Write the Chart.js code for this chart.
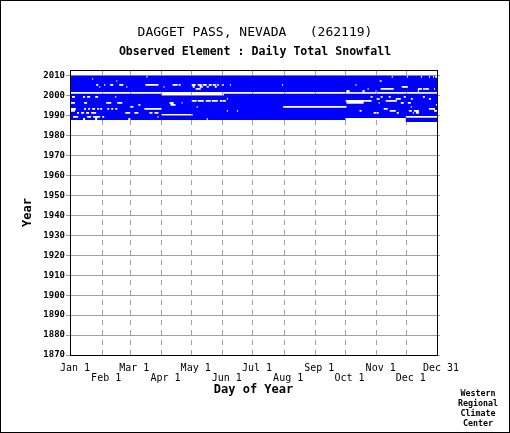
<!DOCTYPE html>
<html><head><meta charset="utf-8">
<script src="https://cdn.jsdelivr.net/npm/chart.js@4.4.1/dist/chart.umd.min.js"></script>
<style>html,body{margin:0;padding:0;background:#fff}canvas{display:block}</style>
</head><body>
<canvas id="c" width="510" height="433"></canvas>
<script>
const stationTitle = 'DAGGET PASS, NEVADA   (262119)';
const elementTitle = 'Observed Element : Daily Total Snowfall';
const xAxisTitle = 'Day of Year';
const yAxisTitle = 'Year';
const creditLines = ['Western', 'Regional', 'Climate', 'Center'];

const yearTicks = [1870, 1880, 1890, 1900, 1910, 1920, 1930, 1940, 1950, 1960, 1970, 1980, 1990, 2000, 2010];
const dayTicks = [1, 32, 60, 91, 121, 152, 182, 213, 244, 274, 305, 335, 365];
const dayTickLabels = ['Jan 1', 'Feb 1', 'Mar 1', 'Apr 1', 'May 1', 'Jun 1', 'Jul 1', 'Aug 1', 'Sep 1', 'Oct 1', 'Nov 1', 'Dec 1', 'Dec 31'];

const firstYear = 1987;
const lastYear = 2009;

// [year, first missing day-of-year, last missing day-of-year]
const missingSpans = [
  [2009,77,77],[2009,321,321],[2009,336,336],[2009,350,350],[2009,358,358],[2009,362,362],[2009,364,365],
  [2008,23,23],
  [2007,47,47],[2007,309,310],
  [2005,27,28],[2005,35,35],[2005,41,43],[2005,50,53],[2005,76,88],[2005,103,107],[2005,109,110],[2005,122,125],[2005,128,131],[2005,133,136],[2005,139,141],[2005,143,145],[2005,147,148],[2005,152,153],[2005,160,160],[2005,212,212],[2005,285,285],
  [2004,30,30],[2004,57,57],[2004,94,94],[2004,123,124],[2004,130,132],[2004,137,138],[2004,145,146],[2004,331,336],
  [2003,126,130],[2003,297,297],[2003,310,322],[2003,347,350],[2003,352,357],[2003,363,363],
  [2002,276,278],[2002,292,293],[2002,305,305],[2002,347,347],
  [2001,1,365],
  [2000,92,153],
  [1999,3,5],[1999,14,15],[1999,18,20],[1999,26,28],[1999,46,46],[1999,300,301],[1999,310,311],[1999,318,319],[1999,333,334],[1999,352,353],
  [1998,157,157],[1998,306,308],[1998,325,327],[1998,328,329],[1998,340,341],[1998,358,359],
  [1997,122,126],[1997,128,133],[1997,136,140],[1997,142,147],[1997,150,155],[1997,275,300],[1997,315,325],
  [1996,1,5],[1996,15,17],[1996,37,41],[1996,48,52],[1996,100,103],[1996,112,112],[1996,276,292],[1996,308,308],[1996,330,332],[1996,337,339],
  [1995,69,70],[1995,101,105],[1995,365,365],
  [1994,61,63],[1994,127,127],[1994,213,275],[1994,340,340],
  [1993,1,6],[1993,15,16],[1993,19,20],[1993,23,25],[1993,28,29],[1993,31,32],[1993,38,39],[1993,42,43],[1993,46,47],[1993,75,91],[1993,313,316],[1993,358,363],
  [1992,1,5],[1992,157,157],[1992,167,167],[1992,289,290],[1992,319,324],[1992,338,340],[1992,343,347],[1992,363,365],
  [1991,8,9],[1991,12,14],[1991,17,19],[1991,22,26],[1991,56,60],[1991,65,68],[1991,80,82],[1991,85,88],[1991,303,307],[1991,326,327],[1991,342,342],[1991,345,347],
  [1990,92,122],
  [1989,4,8],[1989,18,21],[1989,24,30],[1989,33,34],[1989,88,88],[1989,335,365],
  [1988,14,15],[1988,26,27],[1988,59,60],[1988,137,137],[1988,275,334],
  [1987,1,334]
];

// Build the observed (present) day spans for each year from the missing list
const observed = [];
for (let yr = firstYear; yr <= lastYear; yr++) {
  const gaps = missingSpans.filter(m => m[0] === yr).map(m => [m[1] - 1, m[2]]).sort((a, b) => a[0] - b[0]);
  let cur = 0;
  for (const [s, e] of gaps) {
    if (s > cur) observed.push({ x: [cur, s], y: yr + 0.5 });
    cur = Math.max(cur, e);
  }
  if (cur < 365) observed.push({ x: [cur, 365], y: yr + 0.5 });
}

const MONO = '"DejaVu Sans Mono", "Liberation Mono", monospace';
const GRID = '#a0a0a0';

const framePlugin = {
  id: 'frame',
  beforeDraw(chart) {
    const c = chart.ctx;
    c.save(); c.fillStyle = '#fff'; c.fillRect(0, 0, chart.width, chart.height); c.restore();
  },
  afterDraw(chart) {
    const { ctx, chartArea: a, scales } = chart;
    ctx.save();
    ctx.strokeStyle = GRID; ctx.lineWidth = 1;
    scales.y.ticks.forEach(t => {
      const py = Math.round(scales.y.getPixelForValue(t.value) - 0.5) + 0.5;
      ctx.beginPath(); ctx.moveTo(a.right, py); ctx.lineTo(a.right + 3, py); ctx.stroke();
    });
    ctx.strokeStyle = '#000';
    ctx.strokeRect(a.left + 0.5, a.top + 0.5, a.right - a.left, a.bottom - a.top);
    ctx.strokeRect(0.5, 0.5, chart.width - 1, chart.height - 1);
    ctx.fillStyle = '#000';
    ctx.font = 'bold 8.3px ' + MONO;
    ctx.textAlign = 'center'; ctx.textBaseline = 'middle';
    creditLines.forEach((s, i) => ctx.fillText(s, 478, 394 + i * 9.8));
    ctx.restore();
  }
};

new Chart(document.getElementById('c'), {
  type: 'bar',
  data: {
    datasets: [{
      label: 'Observed',
      data: observed,
      backgroundColor: '#0000ff',
      borderWidth: 0,
      barPercentage: 1.15,
      categoryPercentage: 1,
      inflateAmount: 0,
      yAxisID: 'y'
    }]
  },
  options: {
    indexAxis: 'y',
    responsive: false,
    devicePixelRatio: 1,
    animation: false,
    events: [],
    layout: { padding: 0 },
    plugins: {
      legend: { display: false },
      tooltip: { enabled: false },
      title: {
        display: true, text: stationTitle, color: '#000',
        font: { family: MONO, size: 13, weight: 'normal', lineHeight: 1.2 },
        padding: { top: 25, bottom: 2 }
      },
      subtitle: {
        display: true, text: elementTitle, color: '#000',
        font: { family: MONO, size: 11.6, weight: 'bold', lineHeight: 1.2 },
        padding: { top: 2, bottom: 11.5 }
      }
    },
    scales: {
      x: {
        type: 'linear', position: 'bottom', min: 0, max: 365, offset: false,
        afterBuildTicks: s => { s.ticks = dayTicks.map(v => ({ value: v })); },
        afterFit: s => { s.height = 78; },
        ticks: {
          autoSkip: false, maxRotation: 0, minRotation: 0, padding: 8, labelOffset: 4,
          color: '#000', font: { family: MONO, size: 10, lineHeight: 1.0 },
          callback: (v, i) => (i % 2 === 0 ? [dayTickLabels[i]] : ['', dayTickLabels[i]])
        },
        grid: {
          drawTicks: false, lineWidth: 1, offset: false,
          color: ctx => (ctx.index === 0 || ctx.index === dayTicks.length - 1) ? 'rgba(0,0,0,0)' : GRID
        },
        border: { display: false, dash: [5, 5] },
        title: {
          display: true, text: xAxisTitle, color: '#000',
          font: { family: MONO, size: 12, weight: 'bold', lineHeight: 1.2 },
          padding: { top: 0, bottom: 35.8 }
        }
      },
      y: {
        type: 'linear', position: 'left', min: 1870, max: 2013, offset: false,
        afterBuildTicks: s => { s.ticks = yearTicks.map(v => ({ value: v })); },
        afterFit: s => { s.width = 70; },
        ticks: {
          padding: 1, color: '#000',
          font: { family: MONO, size: 9, weight: 'bold' },
          callback: v => String(v)
        },
        grid: { color: GRID, lineWidth: 1, tickLength: 4, drawTicks: true, offset: false },
        border: { display: false },
        title: {
          display: true, text: yAxisTitle, color: '#000',
          font: { family: MONO, size: 12, weight: 'bold', lineHeight: 1.2 },
          padding: { top: 20.8, bottom: 0 }
        }
      },
      yRight: {
        type: 'linear', position: 'right', display: true,
        afterFit: s => { s.width = 73; },
        ticks: { display: false },
        grid: { display: false, drawTicks: false },
        border: { display: false }
      }
    }
  },
  plugins: [framePlugin]
});
</script>
</body></html>
